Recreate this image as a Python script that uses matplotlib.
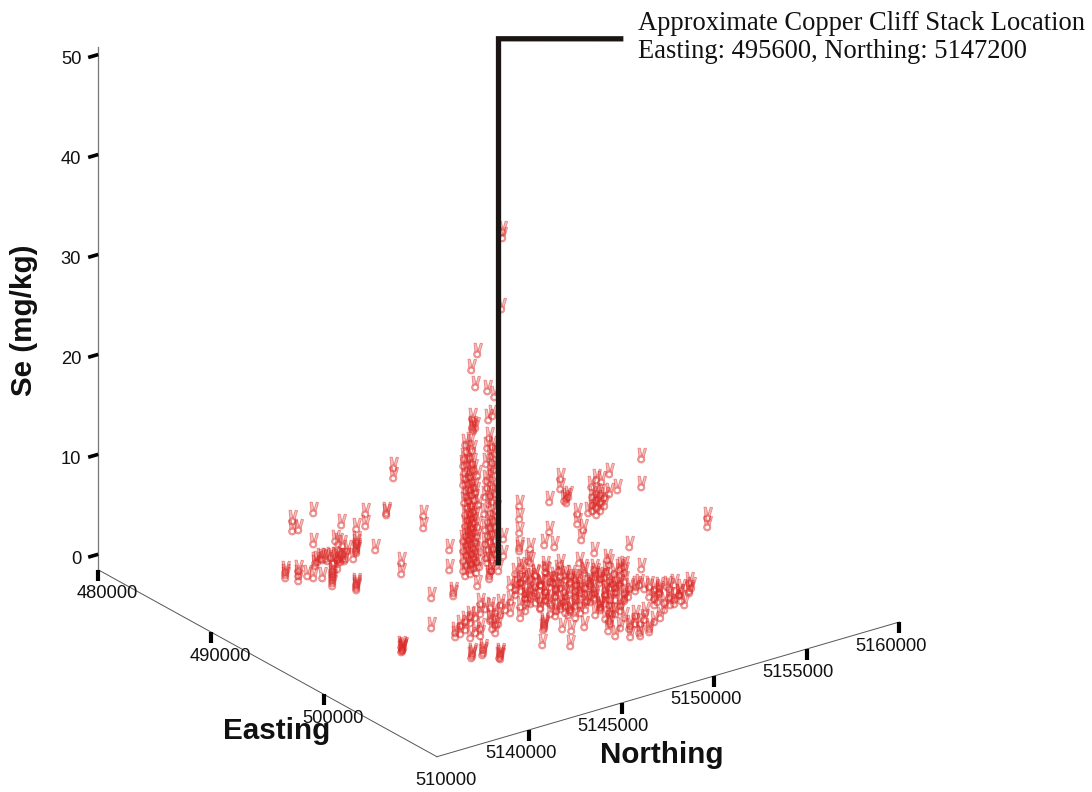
#!/usr/bin/env python3
"""Se in soil around the Copper Cliff stack, 3D scatter with hand shaped markers."""

import matplotlib

matplotlib.use('Agg')
import matplotlib.pyplot as plt
from matplotlib.path import Path

OUT = 'out.png'

EAST_TICKS = [480000, 490000, 500000, 510000]
NORTH_TICKS = [5140000, 5145000, 5150000, 5155000, 5160000]
SE_TICKS = [0, 10, 20, 30, 40, 50]
EAST_LIM = (480000, 510000)
NORTH_LIM = (5135000, 5160000)
SE_LIM = (-1.55, 50.75)

STACK_EAST = [495470, 495470, 499295]
STACK_NORTH = [5147200, 5147200, 5151615]
STACK_SE = [1.95, 54.65, 54.65]

# main band south of the stack
band_east = [
    494800, 495110, 495570, 496030, 496640, 497100, 497560, 498020,
    495700, 496010, 496310, 496620, 496920, 497230, 497540, 497840, 498150, 498450, 498760, 499070,
    496600, 496900, 497210, 497520, 497820, 498130, 498430, 498740, 499050, 499350, 499660, 499960, 500270, 500580, 500880,
    497800, 498110, 498410, 498720, 499020, 499330, 499640, 499940, 500250, 500550, 500860, 501170,
    501930, 502240, 502540, 502850, 503160,
    499000, 499310, 499620, 499920, 500230, 500530, 500840, 501150, 501450, 501760, 502060,
    503130, 503440, 503750, 501190, 501650, 502110,
    501120, 501430, 501740, 502350, 502650, 502960,
    503860, 504160, 504470, 504780, 505080, 505520, 505830,
    503570, 503880, 504340,
    497780, 498090, 498390, 498700,
    498520, 498830, 499140, 499440, 499750, 500050,
    499270, 499570, 499880, 500340,
    500320, 500620, 500930, 501390,
]
band_north = [
    5148750, 5149100, 5149630, 5150160, 5150860, 5151390, 5151920, 5152450,
    5147930, 5148280, 5148640, 5148990, 5149340, 5149690, 5150050, 5150400, 5150750, 5151110, 5151460, 5151810,
    5147110, 5147470, 5147820, 5148170, 5148520, 5148880, 5149230, 5149580, 5149940, 5150290, 5150640, 5151000, 5151350, 5151700, 5152050,
    5146650, 5147000, 5147350, 5147710, 5148060, 5148410, 5148770, 5149120, 5149470, 5149830, 5150180, 5150530,
    5151410, 5151770, 5152120, 5152470, 5152830,
    5146190, 5146540, 5146890, 5147240, 5147600, 5147950, 5148300, 5148660, 5149010, 5149360, 5149720,
    5150950, 5151300, 5151660, 5152410, 5152940, 5153470,
    5146780, 5147130, 5147490, 5148190, 5148550, 5148900,
    5148080, 5148440, 5148790, 5149140, 5149490, 5148150, 5148500,
    5149610, 5149960, 5150490,
    5144770, 5145130, 5145480, 5145830,
    5143780, 5144130, 5144490, 5144840, 5145190, 5145550,
    5142790, 5143140, 5143490, 5144020,
    5142150, 5142500, 5142850, 5143380,
]
band_se = [
    0.8, 1.3, 0.9, 1.1, 1.4, 0.7, 1.2, 1.0,
    1.2, 0.7, 1.0, 1.4, 0.8, 1.1, 0.6, 1.3, 1.0, 0.8, 1.2, 1.4,
    0.9, 1.3, 0.7, 1.1, 1.4, 0.8, 1.2, 0.6, 1.0, 1.3, 0.9, 1.1, 0.7, 1.2, 1.0,
    1.1, 0.8, 1.3, 0.6, 1.0, 1.4, 0.9, 1.2, 0.7, 1.1, 1.3, 0.8,
    1.0, 1.3, 0.8, 1.2, 1.4,
    0.9, 1.2, 0.7, 1.3, 1.0, 0.6, 1.1, 1.4, 0.8, 1.2, 1.0,
    1.1, 0.7, 1.3, 0.9, 1.2, 1.4,
    1.0, 1.3, 0.8, 1.1, 0.7, 1.2,
    1.2, 0.8, 1.0, 1.3, 0.7, 0.9, 1.1,
    1.0, 1.3, 0.8,
    1.2, 0.8, 1.1, 1.4,
    0.9, 1.2, 0.7, 1.1, 1.3, 0.8,
    1.0, 1.3, 0.7, 1.1,
    1.2, 0.8, 1.0, 1.3,
]

# second reading of the same band, the samples between the rows above
fill_east = [
    497280, 497580, 497890, 498190, 498500, 498810, 499110, 499420, 499720, 500030, 500340, 500640, 500950, 501250,
    501710, 502020, 502320, 502630,
    498630, 498940, 499240, 499550, 499860, 500160, 500470, 500770, 501080, 501390, 501690,
    502610, 502920, 503220, 503530,
    496380, 496680, 496990, 497300, 497600, 497910, 498210, 498520, 498830, 499130, 499440,
    499680, 500140, 500450, 500750, 501060, 501520, 501980, 502280, 502590,
    498460, 498760, 499070,
    498900, 499200, 499660, 499910,
    499950, 500250, 500770,
    503330, 503790, 504100, 504400, 504710,
    504990, 505300, 505610,
]
fill_north = [
    5146970, 5147320, 5147680, 5148030, 5148380, 5148730, 5149090, 5149440, 5149790, 5150150, 5150500, 5150850, 5151210, 5151560,
    5152090, 5152440, 5152790, 5153150,
    5146680, 5147040, 5147390, 5147740, 5148090, 5148450, 5148800, 5149150, 5149510, 5149860, 5150210,
    5151270, 5151620, 5151980, 5152330,
    5147790, 5148140, 5148490, 5148840, 5149200, 5149550, 5149900, 5150260, 5150610, 5150960, 5151320,
    5146040, 5146570, 5146920, 5147280, 5147630, 5148160, 5148690, 5149040, 5149400,
    5144630, 5144980, 5145340,
    5143280, 5143640, 5144170, 5144450,
    5142640, 5143000, 5143600,
    5148400, 5148930, 5149290, 5149640, 5149990,
    5148470, 5148820, 5149170,
]
fill_se = [
    1.1, 0.7, 1.4, 0.9, 1.2, 0.6, 1.0, 1.3, 0.8, 1.1, 1.4, 0.7, 1.0, 1.2,
    0.9, 1.3, 0.7, 1.1,
    1.2, 0.8, 1.0, 1.4, 0.6, 1.1, 0.9, 1.3, 0.7, 1.2, 1.0,
    1.3, 0.9, 1.1, 0.7,
    0.8, 1.2, 0.6, 1.0, 1.4, 0.9, 1.1, 0.7, 1.3, 1.0, 0.8,
    1.0, 1.3, 0.7, 1.2, 0.9, 1.1, 1.4, 0.8, 1.0,
    1.2, 0.8, 1.1,
    0.9, 1.3, 1.0, 0.7,
    1.1, 0.8, 1.2,
    1.0, 1.3, 0.7, 1.1, 0.9,
    1.2, 0.8, 1.0,
]

# third reading, the densest part of the band
dense_east = [
    495630, 496000, 496360, 496730, 497100, 497470, 497830, 498200, 498570,
    496500, 496860, 497230, 497600, 497960, 498330, 498700, 499070, 499430, 499800, 500170,
    497670, 498040, 498400, 498770, 499140, 499500, 499870, 500240, 500610, 500970,
    498900, 499270, 499640, 500000, 500370, 500740, 501100, 501470,
    502910, 503280, 503640,
    501350, 501750, 502170, 502480,
    500840, 501210, 501570, 502190, 502550,
]
dense_north = [
    5148400, 5148830, 5149250, 5149670, 5150100, 5150520, 5150950, 5151370, 5151800,
    5147550, 5147970, 5148400, 5148820, 5149250, 5149670, 5150090, 5150520, 5150940, 5151360, 5151790,
    5147050, 5147480, 5147900, 5148320, 5148750, 5149170, 5149600, 5150020, 5150440, 5150870,
    5146620, 5147050, 5147470, 5147900, 5148320, 5148740, 5149170, 5149590,
    5151250, 5151680, 5152100,
    5152040, 5152500, 5153000, 5153350,
    5147010, 5147430, 5147860, 5148560, 5148990,
]
dense_se = [
    1.3, 0.8, 1.0, 1.2, 0.7, 1.4, 0.9, 1.1, 1.3,
    0.9, 1.2, 0.7, 1.0, 1.3, 0.8, 1.1, 1.4, 0.9, 1.2, 0.7,
    1.2, 0.7, 1.1, 1.3, 0.8, 1.0, 1.4, 0.9, 1.2, 0.6,
    1.0, 1.3, 0.8, 1.1, 0.7, 1.2, 0.9, 1.3,
    1.1, 0.8, 1.2,
    1.0, 1.3, 0.9, 1.1,
    1.2, 0.8, 1.0, 1.3, 0.9,
]

# west cluster
west_east = [
    493540, 493540, 491090, 490450, 490450, 490640, 492690, 492690, 491950, 492410,
    491090, 491860, 491770, 491980, 492410, 492410, 492410, 492410, 492410, 492990,
    492320, 492130, 491160, 491310, 491460, 491610, 491770, 491860, 491980, 492070, 491160,
    490910, 491090, 491370, 490240, 490240, 490240, 490640, 490640, 490640,
    491680, 491680, 491680, 491680, 491680, 491680, 491830,
    492410, 492410, 492410, 492410, 493790, 493790, 493330, 493330,
    491230, 491380, 491540, 491700, 491830, 491920, 492030,
]
west_north = [
    5142660, 5142660, 5139840, 5139100, 5139100, 5139310, 5141670, 5141670, 5140830, 5141360,
    5139840, 5140720, 5140620, 5140860, 5141360, 5141360, 5141360, 5141360, 5141360, 5142030,
    5141250, 5141040, 5139910, 5140090, 5140260, 5140440, 5140620, 5140720, 5140860, 5140970, 5139910,
    5139630, 5139840, 5140160, 5138850, 5138850, 5138850, 5139310, 5139310, 5139310,
    5140510, 5140510, 5140510, 5140510, 5140510, 5140510, 5140690,
    5141360, 5141360, 5141360, 5141360, 5142940, 5142940, 5142420, 5142420,
    5140000, 5140170, 5140350, 5140530, 5140680, 5140790, 5140920,
]
west_se = [
    13.3, 12.3, 8.8, 8.0, 7.0, 7.1, 8.7, 7.5, 7.6, 7.2,
    5.7, 5.7, 6.0, 5.5, 5.9, 5.6, 5.2, 5.0, 4.8, 5.1,
    4.2, 5.0, 3.8, 4.2, 4.2, 4.3, 4.3, 4.2, 4.2, 4.2, 3.5,
    2.5, 2.3, 2.3, 2.9, 2.6, 2.3, 3.0, 2.5, 2.0,
    3.0, 2.7, 2.4, 2.1, 1.8, 1.5, 3.2,
    1.7, 1.5, 1.3, 1.1, 3.8, 2.7, 8.8, 8.6,
    3.9, 4.1, 4.0, 3.8, 4.1, 3.9, 4.0,
]

# column just west of the stack, low part upward
col1_east = [
    494000, 493950, 494050, 494000, 494050, 493950, 494000,
    494000, 494050, 493950, 493950, 494000, 494050, 494000,
    494000, 493950, 494050, 494000, 493950, 494050,
    494000, 494000, 494050, 494050, 493950, 494000, 494000,
    494000, 494050, 493950, 494000, 493950, 494000,
    494050, 494000, 493950, 494000, 494050, 493950,
    494000, 494050, 493950, 494000, 493950, 494050,
    494000, 493950, 494000, 494050, 494000, 493950,
    494000, 494050, 493950, 494000, 494050, 493950,
    494000, 493950, 494050, 494000, 494050, 493950,
    494000, 494000, 494050, 494000, 494050, 494000, 494000, 494000, 494000, 494000,
]
col1_north = [
    5146280, 5146600, 5146870, 5146170, 5146500, 5146770, 5147040,
    5146330, 5146600, 5146930, 5146230, 5146500, 5146710, 5146330,
    5146600, 5146870, 5147090, 5146170, 5146440, 5146710,
    5146330, 5146550, 5146820, 5146440, 5146660, 5146930, 5146170,
    5146280, 5146550, 5146770, 5146390, 5146660, 5146930,
    5146230, 5146500, 5146770, 5146390, 5146600, 5146870,
    5146280, 5146550, 5146770, 5146390, 5146660, 5146980,
    5146230, 5146500, 5146770, 5146330, 5146600, 5146870,
    5146280, 5146550, 5146820, 5146170, 5146440, 5146710,
    5146280, 5146600, 5146930, 5146230, 5146500, 5146770,
    5146170, 5146390, 5146660, 5146230, 5146550, 5146340, 5146660, 5146280, 5146550, 5146660,
]
col1_se = [
    0.9, 0.9, 0.9, 1.4, 1.4, 1.4, 1.4,
    1.9, 1.9, 1.9, 2.4, 2.4, 2.4, 2.9,
    2.9, 2.9, 2.9, 3.4, 3.4, 3.4,
    3.9, 3.9, 3.9, 4.4, 4.4, 4.4, 4.4,
    4.9, 4.9, 4.9, 5.4, 5.4, 5.4,
    5.9, 5.9, 5.9, 6.4, 6.4, 6.4,
    7.0, 7.0, 7.0, 7.6, 7.6, 7.6,
    8.2, 8.2, 8.2, 8.8, 8.8, 8.8,
    9.4, 9.4, 9.4, 10.0, 10.0, 10.0,
    10.6, 10.6, 10.6, 11.2, 11.2, 11.2,
    11.9, 11.9, 11.9, 12.6, 12.6, 13.2, 13.2, 14.0, 14.0, 15.4,
]

col1_top_east = [494000, 494000, 494000, 494000, 494000, 494000, 494000]
col1_top_north = [5146820, 5146660, 5146700, 5146660, 5146820, 5146600, 5146930]
col1_top_se = [15.4, 15.6, 15.2, 16.4, 19.5, 21.3, 22.7]

# second column, closer to the stack
col2_east = [
    494000, 494000, 494050, 493950, 494000, 494050, 493950, 494000,
    494000, 494050, 493950, 494000, 494000, 493950, 494050, 494000,
    494000, 494050, 494000, 493950, 494050, 494000, 494000, 493950,
    494050, 494000, 494000, 493950, 494050, 494000, 494000, 494050,
    494000, 493950, 494000, 494050, 494000, 494000, 494000, 494000,
    494000, 494000, 494000, 494000,
]
col2_north = [
    5147680, 5147580, 5147470, 5147790, 5147420, 5147680, 5147950, 5147520,
    5147790, 5147360, 5147680, 5147900, 5147520, 5147790, 5147360, 5147630,
    5147900, 5147520, 5147790, 5147360, 5147680, 5147950, 5147520, 5147790,
    5147360, 5147630, 5147900, 5147520, 5147790, 5147420, 5147680, 5147580,
    5147840, 5147470, 5147740, 5147580, 5147900, 5147470, 5147740, 5147580,
    5147520, 5147740, 5147840, 5147470,
]
col2_se = [
    0.6, 0.2, 1.6, 1.6, 2.1, 2.1, 2.1, 2.8,
    2.8, 3.5, 3.5, 3.5, 4.2, 4.2, 4.9, 4.9,
    4.9, 5.6, 5.6, 6.5, 6.5, 6.5, 7.4, 7.4,
    8.2, 8.2, 8.2, 9.0, 9.0, 9.8, 9.8, 10.6,
    10.6, 11.4, 11.4, 12.2, 12.2, 13.0, 13.0, 14.0,
    15.8, 16.1, 17.9, 18.7,
]

# scattered samples, north east group and stragglers
other_east = [
    498130, 498130, 497790, 498680, 498680, 498830, 498800, 497790, 497640, 497940,
    496870, 496870, 496870, 496870, 496870, 497210, 497150, 496380, 496380,
    499230, 499410, 499660, 499080, 499660, 499900, 498980,
    500270, 500640, 500640, 500640, 499170, 499570, 500020, 502660, 502660,
    499260, 499140, 499380, 499500, 499260, 499140, 499380, 499260, 499380, 499260, 499140, 499500,
    498340, 498280, 498400, 498340,
    497360, 497360, 496810, 499960, 500690, 500690, 497480, 497480, 496560, 496560,
    498210, 498580, 498640, 498860, 494000, 494000, 494000,
    500010, 500040, 499980, 500010, 500030, 499990,
    502780, 502800, 502760, 502810, 502830, 502790, 503640, 503660, 503620, 503640,
    503760, 504730, 502050, 502070, 502030, 502050, 502700, 503190, 503170, 504320, 505060,
]
other_north = [
    5148880, 5148880, 5148490, 5149510, 5149510, 5149690, 5149650, 5148490, 5148310, 5148670,
    5147430, 5147430, 5147430, 5147430, 5147430, 5147820, 5147750, 5146870, 5146870,
    5150150, 5150360, 5150640, 5149970, 5150640, 5150920, 5149870,
    5151350, 5151770, 5151770, 5151770, 5150080, 5150540, 5151070, 5154100, 5154100,
    5150180, 5150040, 5150320, 5150470, 5150180, 5150040, 5150320, 5150180, 5150320, 5150180, 5150040, 5150470,
    5149120, 5149050, 5149190, 5149120,
    5143360, 5143360, 5142720, 5140800, 5141650, 5141650, 5143500, 5143500, 5142440, 5142440,
    5144350, 5144770, 5144840, 5145090, 5148280, 5148280, 5148250,
    5139200, 5139230, 5139170, 5139200, 5139220, 5139180,
    5141290, 5141310, 5141270, 5141870, 5141890, 5141850, 5142280, 5142300, 5142260, 5142280,
    5144510, 5145390, 5145620, 5145640, 5145600, 5145620, 5146200, 5146390, 5147100, 5147690, 5147620,
]
other_se = [
    11.8, 10.8, 9.5, 8.3, 7.3, 6.7, 5.7, 6.4, 5.2, 4.9,
    9.0, 7.7, 6.3, 4.8, 4.5, 4.7, 3.5, 5.7, 4.0,
    11.7, 11.5, 12.3, 11.0, 10.3, 10.7, 8.3,
    5.0, 13.8, 11.0, 2.8, 4.4, 3.7, 2.8, 7.9, 7.0,
    10.3, 10.0, 10.2, 9.8, 9.6, 9.2, 9.4, 8.9, 8.6, 8.2, 8.6, 9.0,
    9.8, 9.6, 10.0, 9.4,
    7.1, 5.1, 2.3, 2.3, 1.8, 1.4, 2.8, 2.5, 10.5, 9.3,
    3.5, 4.2, 5.0, 5.0, 34.2, 33.6, 26.5,
    1.0, 1.2, 0.8, 0.9, 1.1, 1.3,
    1.0, 1.2, 0.8, 1.0, 1.3, 0.8, 1.0, 1.2, 0.8, 0.7,
    1.0, 1.0, 1.0, 1.2, 0.8, 1.4, 1.0, 1.0, 1.0, 1.0, 1.0,
]

EDGE = (0.86, 0.16, 0.15, 0.50)
FILL = (0.86, 0.16, 0.15, 0.30)
SANS = 'Liberation Sans'
SERIF = 'Liberation Serif'


def hand_marker():
    # palm ring with two fingers, units are roughly output pixels
    center = (-0.3, -4.0)
    ring = Path.circle(center, 3.7)
    inner = Path.circle(center, 2.3)
    hole = Path(inner.vertices[::-1], inner.codes)
    finger_a = Path([(-2.6, -1.6), (-3.6, 7.5), (-1.2, 7.5), (0.5, -0.6), (-2.6, -1.6)], closed=True)
    finger_b = Path([(0.5, -0.6), (2.8, 7.5), (5.2, 7.0), (2.6, -1.8), (0.5, -0.6)], closed=True)
    return Path.make_compound_path(ring, hole, finger_a, finger_b)


def draw_axes(ax):
    floor = SE_LIM[0]
    grey = '#777777'
    ax.plot(EAST_LIM, [NORTH_LIM[0]] * 2, [floor] * 2, color='#555555', lw=0.7)
    ax.plot([EAST_LIM[1]] * 2, NORTH_LIM, [floor] * 2, color='#555555', lw=0.7)
    ax.plot([EAST_LIM[0]] * 2, [NORTH_LIM[0]] * 2, SE_LIM, color=grey, lw=0.9)
    for e in EAST_TICKS:
        if e != EAST_LIM[1]:
            ax.plot([e, e], [NORTH_LIM[0]] * 2, [floor, floor - 1.1], color='k', lw=3.0, solid_capstyle='butt')
        ax.text(e, NORTH_LIM[0] + 486, floor - 2.66, str(e), fontsize=13.2, family=SANS,
                ha='center', va='center', color='#111111')
    for n in NORTH_TICKS:
        ax.plot([EAST_LIM[1]] * 2, [n, n], [floor, floor - 1.1], color='k', lw=3.0, solid_capstyle='butt')
        ax.text(EAST_LIM[1] - 752, n, floor - 2.87, str(n), fontsize=13.2, family=SANS,
                ha='center', va='center', color='#111111')
    for s in SE_TICKS:
        ax.plot([EAST_LIM[0]] * 2, [NORTH_LIM[0], NORTH_LIM[0] - 540], [s, s], color='k', lw=2.6,
                solid_capstyle='butt')
        ax.text(EAST_LIM[0], NORTH_LIM[0] - 918, s, str(s), fontsize=13.2, family=SANS,
                ha='right', va='center', color='#111111')


def main():
    fig = plt.figure(figsize=(10.92, 7.92), dpi=100)
    ax = fig.add_axes([-62 / 1092, -103.3 / 792, 1, 1092 / 792], projection='3d', computed_zorder=False)
    ax.set_proj_type('ortho')
    ax.view_init(elev=23.64, azim=-36.0)
    ax.set_xlim(*EAST_LIM, view_margin=0)
    ax.set_ylim(*NORTH_LIM, view_margin=0)
    ax.set_zlim(*SE_LIM, view_margin=0)
    ax.set_box_aspect((576.7, 572.0, 571.0), zoom=0.882)
    ax.set_axis_off()
    ax.patch.set_alpha(0)

    draw_axes(ax)

    marker = hand_marker()
    groups = [
        (band_east, band_north, band_se),
        (fill_east, fill_north, fill_se),
        (dense_east, dense_north, dense_se),
        (west_east, west_north, west_se),
        (col1_east, col1_north, col1_se),
        (col1_top_east, col1_top_north, col1_top_se),
        (col2_east, col2_north, col2_se),
        (other_east, other_north, other_se),
    ]
    for east, north, se in groups:
        ax.plot(east, north, se, ls='none', marker=marker, ms=10.8, mfc=FILL, mec=EDGE, mew=0.6, zorder=3)

    ax.plot(STACK_EAST, STACK_NORTH, STACK_SE, color='#1a1512', lw=3.8, solid_joinstyle='miter',
            solid_capstyle='butt', zorder=5)

    fig.text(638 / 1092, 1 - 23 / 792, 'Approximate Copper Cliff Stack Location', fontsize=19.1, family=SERIF,
             ha='left', va='center', color='#111111')
    fig.text(638 / 1092, 1 - 52 / 792, 'Easting: 495600, Northing: 5147200', fontsize=19.1, family=SERIF,
             ha='left', va='center', color='#111111')
    fig.text(24 / 1092, 1 - 320 / 792, 'Se (mg/kg)', fontsize=21.3, family=SANS, weight='bold',
             rotation=90, ha='center', va='center', color='#111111')
    fig.text(277 / 1092, 1 - 731 / 792, 'Easting', fontsize=21.3, family=SANS, weight='bold',
             ha='center', va='center', color='#111111')
    fig.text(662 / 1092, 1 - 755 / 792, 'Northing', fontsize=21.3, family=SANS, weight='bold',
             ha='center', va='center', color='#111111')

    fig.savefig(OUT, dpi=100, facecolor='white')
    plt.close(fig)


if __name__ == '__main__':
    main()
